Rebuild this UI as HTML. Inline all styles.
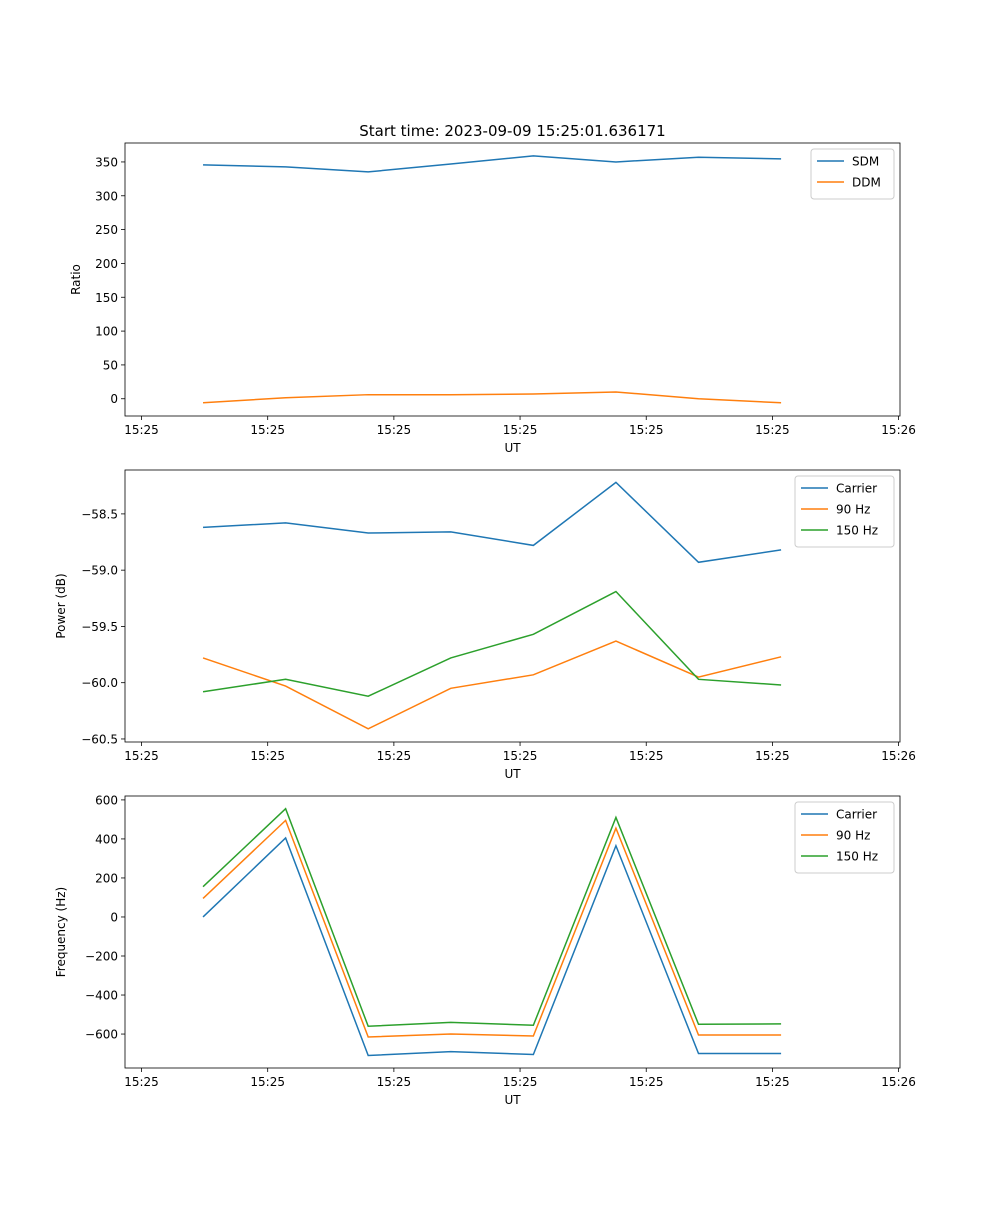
<!DOCTYPE html>
<html><head><meta charset="utf-8"><style>
body{margin:0;background:#fff}
svg text{font-family:"DejaVu Sans","Liberation Sans",sans-serif;font-size:12px;fill:#000}
</style></head><body>
<svg id="fig" width="1000" height="1200" xmlns="http://www.w3.org/2000/svg"></svg>
<script>
const timeIdx=[0,1,2,3,4,5,6,7];
const xTickVals=[-0.745,0.783,2.311,3.839,5.367,6.895,8.423];
const xTickLabels=["15:25","15:25","15:25","15:25","15:25","15:25","15:26"];
const sdm=[345.6,342.7,335.3,347,359,350,357,354.5];
const ddm=[-6,1.5,6,6,7,10,0,-6];
const pwrCarrier=[-58.62,-58.58,-58.67,-58.66,-58.78,-58.22,-58.93,-58.82];
const pwr90=[-59.78,-60.03,-60.41,-60.05,-59.93,-59.63,-59.95,-59.77];
const pwr150=[-60.08,-59.97,-60.12,-59.78,-59.57,-59.19,-59.97,-60.02];
const frqCarrier=[0,405,-710,-690,-705,365,-700,-700];
const frq90=[95,495,-615,-600,-610,455,-605,-605];
const frq150=[155,555,-560,-540,-555,510,-550,-548];
const ratioTicks=[0,50,100,150,200,250,300,350];
const pwrTicks=[-58.5,-59.0,-59.5,-60.0,-60.5];
const frqTicks=[600,400,200,0,-200,-400,-600];
const C=["#1f77b4","#ff7f0e","#2ca02c"];
const svg=document.getElementById('fig');
const NS="http://www.w3.org/2000/svg";
function mk(t,a,p){const e=document.createElementNS(NS,t);for(const k in a)e.setAttribute(k,a[k]);(p||svg).appendChild(e);return e;}
const X0=125,X1=900,xmin=-0.945,xmax=8.44;
const xs=v=>X0+(v-xmin)/(xmax-xmin)*(X1-X0);
function panel(name,top,bot,ymin,ymax,yTicks,fmt,ylabel,series,legW){
  const g=mk('g',{});
  
  
  const ys=v=>bot-(v-ymin)/(ymax-ymin)*(bot-top);
  xTickVals.forEach((v,i)=>{const x=xs(v);
    mk('line',{x1:x,x2:x,y1:bot,y2:bot+4,stroke:'#000','stroke-width':0.8},g);
    const t=mk('text',{x:x,y:bot+18,'text-anchor':'middle'},g);t.textContent=xTickLabels[i];
    });
  yTicks.forEach(v=>{const y=ys(v);
    mk('line',{x1:X0-4,x2:X0,y1:y,y2:y,stroke:'#000','stroke-width':0.8},g);
    const t=mk('text',{x:X0-7,y:y+4.5,'text-anchor':'end'},g);t.textContent=fmt(v);
    });
  const xl=mk('text',{x:(X0+X1)/2,y:bot+36,'text-anchor':'middle'},g);xl.textContent='UT';
  
  const yx=name==='ratio-panel'?80:65;
  const yl=mk('text',{x:yx,y:(top+bot)/2,'text-anchor':'middle',transform:`rotate(-90 ${yx} ${(top+bot)/2})`},g);yl.textContent=ylabel;
  
  series.forEach((s,i)=>{
    const pts=timeIdx.map((t,j)=>xs(t)+','+ys(s.d[j])).join(' ');
    const pl=mk('polyline',{points:pts,fill:'none',stroke:C[i],'stroke-width':1.5},g);
    
    
  });
  mk('rect',{x:X0,y:top,width:X1-X0,height:bot-top,fill:'none',stroke:'#000','stroke-width':0.8},g);
  const lh=series.length*21+8, lx=X1-6-legW, ly=top+6;
  const lg=mk('g',{},g);
  
  mk('rect',{x:lx,y:ly,width:legW,height:lh,rx:3,fill:'#fff',stroke:'#ccc','stroke-width':1},lg);
  series.forEach((s,i)=>{const y=ly+12+i*21;
    mk('line',{x1:lx+6,x2:lx+33,y1:y,y2:y,stroke:C[i],'stroke-width':1.5},lg);
    const t=mk('text',{x:lx+41,y:y+4.5},lg);t.textContent=s.n;
    });
}
const m=v=>String(v).replace('-','\u2212');
panel('ratio-panel',143,416,-25.5,378,ratioTicks,v=>m(v),'Ratio',[{n:'SDM',d:sdm},{n:'DDM',d:ddm}],83);
panel('power-panel',470,742,-60.527,-58.11,pwrTicks,v=>m(v.toFixed(1)),'Power (dB)',[{n:'Carrier',d:pwrCarrier},{n:'90 Hz',d:pwr90},{n:'150 Hz',d:pwr150}],99);
panel('frequency-panel',796,1068,-774,620,frqTicks,v=>m(v),'Frequency (Hz)',[{n:'Carrier',d:frqCarrier},{n:'90 Hz',d:frq90},{n:'150 Hz',d:frq150}],99);
const tt=mk('text',{x:512.5,y:136,'text-anchor':'middle'});
tt.style.fontSize='15px';tt.textContent='Start time: 2023-09-09 15:25:01.636171';

</script>
</body></html>
